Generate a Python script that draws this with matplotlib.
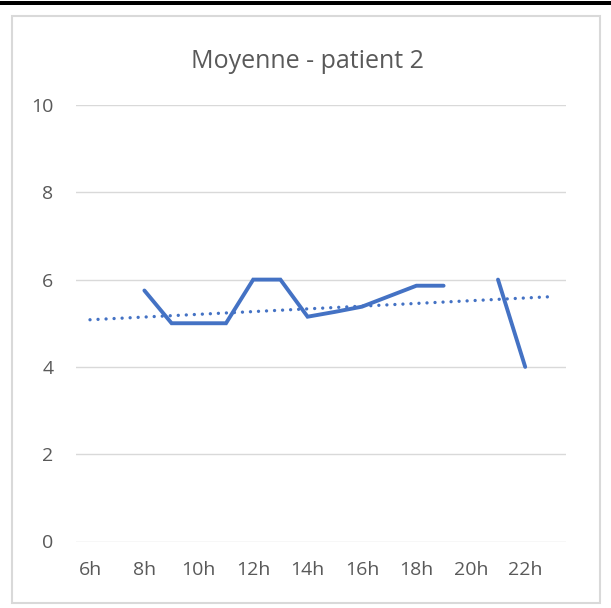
import numpy as np
import matplotlib
matplotlib.use("Agg")
import matplotlib.pyplot as plt
from matplotlib.patches import Rectangle

# ---- data ----
hours = [f"{h}h" for h in range(6, 24)]          # categories 6h .. 23h
values = [np.nan, np.nan, 5.75, 5.0, 5.0, 5.0, 6.0, 6.0, 5.15, 5.26,
          5.38, 5.62, 5.86, 5.86, np.nan, 6.0, 4.0, np.nan]
trend_start = 5.08   # trendline value at 6h
trend_end = 5.61     # trendline value at 23h
yticks = [0, 2, 4, 6, 8, 10]
title = "Moyenne - patient 2"

W, H = 611, 608
fig = plt.figure(figsize=(W / 100, H / 100), dpi=100)
plt.rcParams['font.family'] = ['Open Sans', 'DejaVu Sans']

grey_txt = '#595959'
blue = '#4472C4'

# top black bar
fig.patches.append(Rectangle((0, 1 - 5 / H), 1, 4 / H, transform=fig.transFigure,
                             facecolor='black', edgecolor='none'))
# chart area border
fig.patches.append(Rectangle((11.5 / W, 1 - 603 / H), 588 / W, 587 / H,
                             transform=fig.transFigure, facecolor='none',
                             edgecolor='#d9d9d9', linewidth=1.5))

left, right = 76.4, 566
top, bottom = 105, 541.5
ax = fig.add_axes([left / W, 1 - bottom / H, (right - left) / W, (bottom - top) / H])

x = np.arange(len(hours))
ax.plot(x, values, color=blue, linewidth=2.8, solid_capstyle='round',
        solid_joinstyle='miter', zorder=3)
ax.plot([x[0], x[-1]], [trend_start, trend_end], color=blue, linewidth=2.4,
        linestyle=(0, (0.01, 2.4)), dash_capstyle='round', zorder=2)

ax.set_xlim(-0.5, len(hours) - 0.5)
ax.set_ylim(0, 10)
ax.set_yticks(yticks)
ax.set_yticklabels([str(v) for v in yticks])
ax.set_xticks(x[::2])
ax.set_xticklabels(hours[::2])
ax.grid(axis='y', color='#d9d9d9', linewidth=1.0)
ax.set_axisbelow(True)
for s in ax.spines.values():
    s.set_visible(False)
ax.tick_params(axis='both', length=0, labelsize=14, colors=grey_txt)
ax.tick_params(axis='y', pad=16.5)
ax.tick_params(axis='x', pad=14)

fig.text(307.5 / W, 1 - 68 / H, title, ha='center', va='baseline', fontsize=18,
         color=grey_txt)

fig.savefig('out.png', dpi=100)
